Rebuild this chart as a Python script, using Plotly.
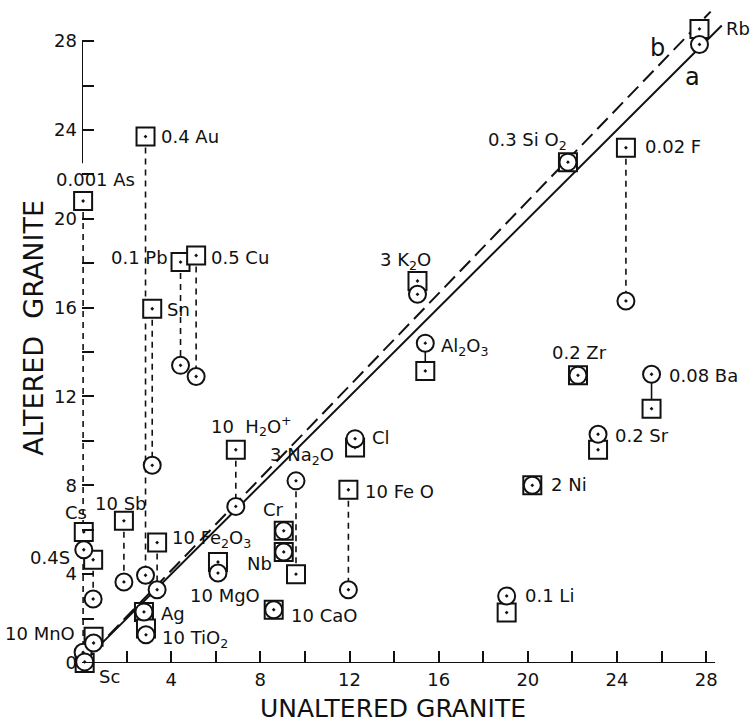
import plotly.graph_objects as go

# ---------------- data ----------------
elements = ["Rb", "0.3 SiO2", "0.02 F", "3 K2O", "Al2O3", "0.2 Zr", "0.08 Ba", "0.2 Sr",
            "2 Ni", "0.1 Li", "Cl", "10 FeO", "3 Na2O", "Cr", "Nb", "10 CaO", "10 H2O+",
            "10 MgO", "0.4 Au", "Sn", "0.1 Pb", "0.5 Cu", "10 Sb", "10 Fe2O3", "Ag",
            "10 TiO2", "0.001 As", "Cs", "0.4S", "10 MnO", "Sc"]
unaltered = [27.7, 21.8, 24.4, 15.05, 15.4, 22.25, 25.55, 23.15,
             20.2, 19.05, 12.25, 11.95, 9.6, 9.05, 9.05, 8.6, 6.9,
             6.1, 2.85, 3.15, 4.42, 5.12, 1.88, 3.37, 2.78,
             2.87, 0.05, 0.08, 0.5, 0.52, 0.12]
altered_square = [28.55, 22.55, 23.2, 17.2, 13.15, 12.95, 11.45, 9.6,
                  8.0, 2.27, 9.7, 7.8, 4.0, 5.95, 5.0, 2.4, 9.6,
                  4.55, 23.7, 15.95, 18.05, 18.35, 6.4, 5.42, 2.3,
                  1.55, 20.8, 5.9, 4.65, 1.18, 0.0]
altered_circle = [27.85, 22.55, 16.3, 16.6, 14.4, 12.95, 13.0, 10.3,
                  8.0, 3.02, 10.1, 3.3, 8.2, 5.95, 5.0, 2.4, 7.05,
                  4.05, 3.95, 8.9, 13.4, 12.9, 3.65, 3.3, 2.3,
                  1.27, 0.48, 5.1, 2.88, 0.9, 0.05]
connector = ["", "", "dash", "", "solid", "", "solid", "",
             "", "", "", "dash", "dash", "", "", "", "dash",
             "", "dash", "dash", "dash", "dash", "dash", "dash", "",
             "", "dash", "", "dash", "", ""]

# label text and anchor (in the chart's data units) for each element
label_text = ["Rb", "0.3 Si O<sub>2</sub>", "0.02 F", "3 K<sub>2</sub>O", "Al<sub>2</sub>O<sub>3</sub>",
              "0.2 Zr", "0.08 Ba", "0.2 Sr", "2 Ni", "0.1 Li", "Cl", "10 Fe O",
              "3 Na<sub>2</sub>O", "Cr", "Nb", "10 CaO", "10  H<sub>2</sub>O<sup>+</sup>",
              "10 MgO", "0.4 Au", "Sn", "0.1 Pb", "0.5 Cu", "10 Sb",
              "10 Fe<sub>2</sub>O<sub>3</sub>", "Ag", "10 TiO<sub>2</sub>", "0.001 As", "Cs",
              "0.4S", "10 MnO", "Sc"]
label_x = [28.8, 20.0, 25.17, 14.5, 16.0, 22.3, 26.24, 23.82, 20.95, 19.78, 12.92, 12.61,
           8.35, 8.59, 7.96, 9.29, 7.6, 6.42, 3.45, 3.72, 3.95, 5.7, 1.73, 3.95, 3.45,
           3.5, 0.6, -0.25, -0.45, -0.22, 0.67]
label_y = [28.56, 23.5, 23.24, 18.1, 14.23, 13.96, 12.93, 10.23, 8.02, 3.06, 10.14, 7.7,
           9.3, 6.89, 4.46, 2.16, 10.65, 3.02, 23.69, 15.9, 18.24, 18.24, 7.2, 5.59, 2.25,
           1.08, 21.76, 6.76, 4.77, 1.31, -0.63]
label_anchor = ["left", "center", "left", "center", "left", "center", "left", "left",
                "left", "left", "left", "left", "left", "center", "center", "left", "center",
                "center", "left", "left", "right", "left", "center", "left", "left",
                "left", "center", "center", "right", "right", "left"]

# isocon lines
isocon_names = ["a", "b"]
isocon_slope = [1.0, 1.04]
isocon_x = [[0.5, 28.7], [0.5, 28.2]]
isocon_label_xy = [(27.37, 26.4), (25.8, 27.7)]

X_RANGE = [0, 28.8]
Y_RANGE = [0, 29.4]

FONT = "DejaVu Sans"
INK = "#111111"


def to_paper(xv, yv):
    return ((xv - X_RANGE[0]) / (X_RANGE[1] - X_RANGE[0]),
            (yv - Y_RANGE[0]) / (Y_RANGE[1] - Y_RANGE[0]))


fig = go.Figure()

# connectors between the two samples of one element
for style in ["dash", "solid"]:
    cx, cy = [], []
    for xv, ys, yc, c in zip(unaltered, altered_square, altered_circle, connector):
        if c == style:
            cx += [xv, xv, None]
            cy += [ys, yc, None]
    fig.add_trace(go.Scatter(x=cx, y=cy, mode="lines", showlegend=False, hoverinfo="skip",
                             line=dict(color=INK, width=1.6,
                                       dash="6px,5px" if style == "dash" else "solid")))

# isocons
for name, s, xs in zip(isocon_names, isocon_slope, isocon_x):
    fig.add_trace(go.Scatter(x=xs, y=[s * v for v in xs], mode="lines", name=name,
                             showlegend=False, hoverinfo="skip",
                             line=dict(color=INK, width=2,
                                       dash="solid" if name == "a" else "15px,7px")))

# squares then circles
fig.add_trace(go.Scatter(x=unaltered, y=altered_square, mode="markers", showlegend=False,
                         text=elements, cliponaxis=False,
                         marker=dict(symbol="square-dot", size=18, color="white",
                                     line=dict(color=INK, width=2))))
fig.add_trace(go.Scatter(x=unaltered, y=altered_circle, mode="markers", showlegend=False,
                         text=elements, cliponaxis=False,
                         marker=dict(symbol="circle-dot", size=17, color="white",
                                     line=dict(color=INK, width=2))))

# element labels (paper placement so labels just outside the axes still show)
for t, lx, ly, anc in zip(label_text, label_x, label_y, label_anchor):
    px, py = to_paper(lx, ly)
    fig.add_annotation(x=px, y=py, xref="paper", yref="paper", text=t, showarrow=False,
                       xanchor=anc, yanchor="middle",
                       font=dict(family=FONT, size=18, color=INK))

for name, (lx, ly) in zip(isocon_names, isocon_label_xy):
    px, py = to_paper(lx, ly)
    fig.add_annotation(x=px, y=py, xref="paper", yref="paper", text=name, showarrow=False,
                       xanchor="center", yanchor="middle",
                       font=dict(family=FONT, size=24, color=INK))

# axis titles
fig.add_annotation(x=0.485, y=-0.07, xref="paper", yref="paper", text="UNALTERED GRANITE",
                   showarrow=False, xanchor="center", yanchor="middle",
                   font=dict(family=FONT, size=25, color=INK))
fig.add_annotation(x=-0.0766, y=0.513, xref="paper", yref="paper", text="ALTERED  GRANITE",
                   showarrow=False, textangle=-90, xanchor="center", yanchor="middle",
                   font=dict(family=FONT, size=27, color=INK))

# axis lines
fig.add_shape(type="line", xref="x", yref="y", x0=0, x1=28.4, y0=0, y1=0,
              line=dict(color=INK, width=2))
fig.add_shape(type="line", xref="x", yref="y", x0=0, x1=0, y0=22.5, y1=28,
              line=dict(color=INK, width=2))

fig.update_xaxes(range=X_RANGE, showgrid=False, zeroline=False, showline=False,
                 ticks="inside", ticklen=12, tickwidth=2, tickcolor=INK,
                 tickmode="array", tickvals=[4, 8, 12, 16, 20, 24, 28],
                 minor=dict(ticks="inside", ticklen=12, tickwidth=2, tickcolor=INK,
                            tick0=0, dtick=2, showgrid=False),
                 tickfont=dict(family=FONT, size=18, color=INK), ticklabelstandoff=4)
fig.update_yaxes(range=Y_RANGE, showgrid=False, zeroline=False, showline=False,
                 ticks="inside", ticklen=12, tickwidth=2, tickcolor=INK,
                 tickmode="array", tickvals=[0, 4, 8, 12, 16, 20, 24, 28],
                 minor=dict(ticks="inside", ticklen=12, tickwidth=2, tickcolor=INK,
                            tick0=0, dtick=2, showgrid=False),
                 tickfont=dict(family=FONT, size=18, color=INK), ticklabelstandoff=4)

fig.update_layout(width=751, height=723, margin=dict(l=82, r=27, t=10, b=60),
                  paper_bgcolor="white", plot_bgcolor="white",
                  font=dict(family=FONT, color=INK))

fig.write_html("out.html")
